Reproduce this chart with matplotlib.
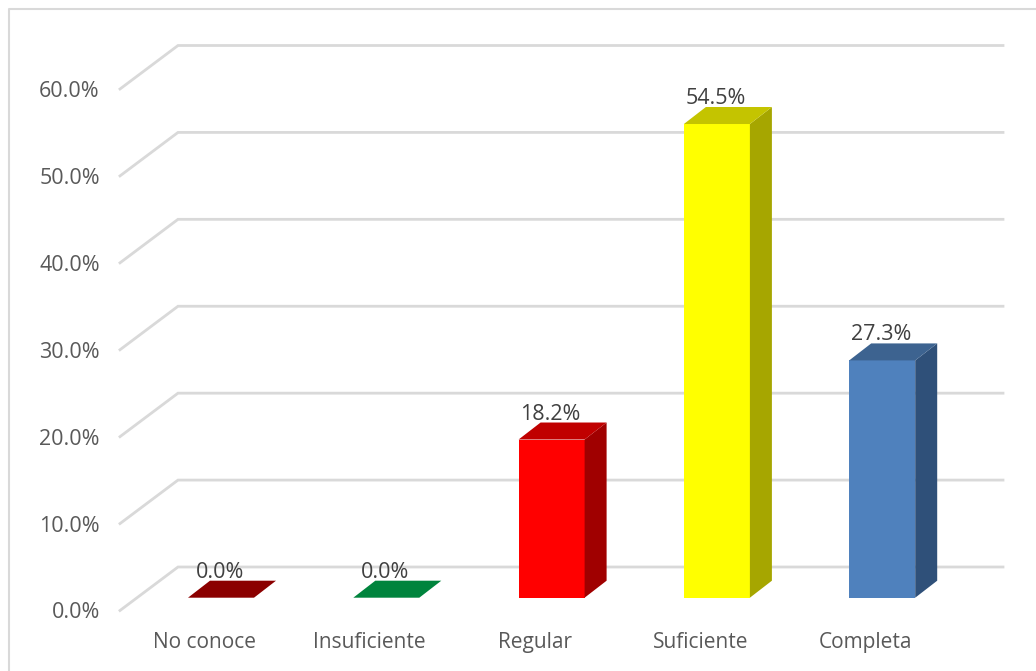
import matplotlib
matplotlib.use("Agg")
import matplotlib.pyplot as plt
from matplotlib.lines import Line2D
from matplotlib.patches import Polygon, Rectangle

categorias = ["No conoce", "Insuficiente", "Regular", "Suficiente", "Completa"]
valores = [0.0, 0.0, 18.2, 54.5, 27.3]
frente = ["#8b0000", "#00843d", "#ff0000", "#ffff00", "#4f81bd"]
arriba = ["#8b0000", "#00843d", "#c00000", "#c4c400", "#3d6390"]
lado = ["#8b0000", "#00843d", "#a00000", "#a6a600", "#2f5079"]
marcas_y = [0, 10, 20, 30, 40, 50, 60]

W, H = 1036, 671
fig = plt.figure(figsize=(W / 100, H / 100), dpi=100)
plt.rcParams["font.family"] = "Open Sans"

# axes = front plane of the fake 3D box, in pixels
x0, x1, y0, y1 = 120, 945, 610.5, 89
ax = fig.add_axes([x0 / W, 1 - y0 / H, (x1 - x0) / W, (y0 - y1) / H])
paso = 165.3
ax.set_xlim((x0 - 204.5) / paso, (x1 - 204.5) / paso)
ax.set_ylim(0, 60)
px_y = 60 / (y0 - y1)
px_x = 1 / paso
for s in ax.spines.values():
    s.set_visible(False)

# pared: lineas de fondo
gris = "#d9d9d9"
fondo_x, fondo_y = 58 * px_x, 43.5 * px_y
xi = ax.get_xlim()[0]
xf = ax.get_xlim()[1] + fondo_x
for v in marcas_y:
    ax.plot([xi, xi + fondo_x, xf], [v, v + fondo_y, v + fondo_y],
            color=gris, lw=2, clip_on=False, zorder=1, solid_joinstyle="miter")

# barras
ancho = 66 * px_x
gap_x, gap_y = 16.5 * px_x, 12.8 * px_y
prof_x, prof_y = 22 * px_x, 17 * px_y
for i, v in enumerate(valores):
    izq = i + gap_x - ancho / 2
    der = izq + ancho
    base = gap_y
    top = base + v
    ax.add_patch(Rectangle((izq, base), ancho, v, fc=frente[i], ec="none", zorder=3, clip_on=False))
    ax.add_patch(Polygon([(der, base), (der + prof_x, base + prof_y), (der + prof_x, top + prof_y), (der, top)],
                         fc=lado[i], ec="none", zorder=3, clip_on=False))
    ax.add_patch(Polygon([(izq, top), (izq + prof_x, top + prof_y), (der + prof_x, top + prof_y), (der, top)],
                         fc=arriba[i], ec="none", zorder=3, clip_on=False))
    ax.text(i + gap_x - 1 * px_x, top + prof_y + 8.5 * px_y, f"{v:.1f}%", ha="center", va="center",
            fontsize=15.5, color="#404040", zorder=4)

ax.set_xticks(range(len(categorias)))
ax.set_xticklabels(categorias, fontsize=15, color="#595959")
ax.set_yticks(marcas_y)
ax.set_yticklabels([f"{m:.1f}%" for m in marcas_y], fontsize=15.5, color="#595959")
ax.tick_params(axis="both", length=0)
ax.tick_params(axis="x", pad=15.5)
ax.tick_params(axis="y", pad=14.5)

# borde del grafico: solo arriba e izquierda
fig.add_artist(Line2D([9 / W, 9 / W, 1], [0, 1 - 9 / H, 1 - 9 / H], transform=fig.transFigure,
                      color=gris, lw=1.5))

fig.savefig("out.png", dpi=100)
